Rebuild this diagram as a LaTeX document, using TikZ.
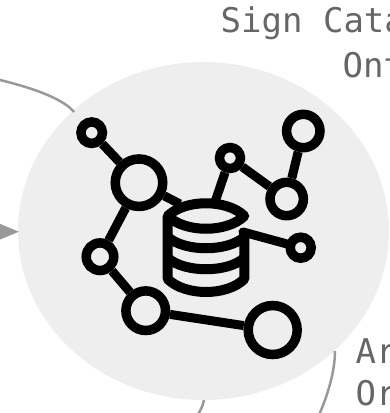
\documentclass[tikz,border=0pt]{standalone}
\usepackage{fontspec}
\setmonofont{DejaVu Sans Mono}
\usetikzlibrary{arrows.meta}
\definecolor{discgray}{HTML}{EEEEEE}
\definecolor{labelgray}{HTML}{666666}
\definecolor{linkgray}{HTML}{999999}
\tikzset{
	ring/.style={circle,draw=black,line width=9.5pt,inner sep=0pt,minimum size=#1},
	stem/.style={draw=black,line width=9pt},
	drum/.style={draw=black,line width=10pt,line join=round},
	link/.style={draw=linkgray,line width=2.5pt},
	caption/.style={text=labelgray,anchor=base west,inner sep=0pt,font=\ttfamily\fontsize{34}{34}\selectfont}
}

\begin{document}
\begin{tikzpicture}[x=1pt,y=-1pt]
	\useasboundingbox (0,0) rectangle (389,413);
	\clip (0,0) rectangle (389,413);
	\fill[discgray] (203.5,231) ellipse [x radius=185.5,y radius=169];

	\node[caption] (sign) at (220.5,32.7) {Sign Cata};
	\node[caption] (ont) at (342.5,77) {Ont};
	\node[caption] (ar) at (355.5,363) {Ar};
	\node[caption] (or) at (355.5,405) {Or};

	% loose ends of the links
	\coordinate (nwstart) at (-2,79.5);
	\coordinate (nwend) at (74,112);
	\coordinate (westart) at (-3,231.7);
	\coordinate (wetip) at (19,231.7);
	\coordinate (sastart) at (204,400);
	\coordinate (saend) at (197.5,415);
	\coordinate (sbstart) at (335,351);
	\coordinate (sbend) at (319,415);
	\draw[link] (nwstart) .. controls (25,86) and (62,97) .. (nwend);
	\draw[link,-{Triangle[length=19pt,width=15pt]}] (westart) -- (wetip);
	\draw[link] (sastart) .. controls (203,405) and (201,410) .. (saend);
	\draw[link] (sbstart) .. controls (335,372) and (327,397) .. (sbend);

	\node[ring=21.5pt] (ringa) at (91.7,132.7) {};
	\node[ring=47.5pt] (ringb) at (139,182.7) {};
	\node[ring=27.6pt] (ringc) at (100,256.7) {};
	\node[ring=39.6pt] (ringd) at (145.7,310.7) {};
	\node[ring=49pt] (ringe) at (272.7,330) {};
	\node[ring=21pt] (ringf) at (300.7,247.7) {};
	\node[ring=21pt] (ringg) at (230,158) {};
	\node[ring=33.4pt] (ringh) at (286.7,199) {};
	\node[ring=33.4pt] (ringi) at (303.3,131) {};

	\coordinate (dbleft) at (180,204);
	\coordinate (dbtop) at (215,202);
	\coordinate (dbright) at (243,232);

	\draw[stem] (ringa) -- (ringb);
	\draw[stem] (ringb) -- (ringc);
	\draw[stem] (ringc) -- (ringd);
	\draw[stem] (ringd) -- (ringe);
	\draw[stem] (ringb) -- (dbleft);
	\draw[stem] (ringg) -- (dbtop);
	\draw[stem] (ringg) -- (ringh);
	\draw[stem] (ringh) -- (ringi);
	\draw[stem,line cap=round] (dbright) -- (ringf);

	% the drum
	\draw[drum] (167.7,216) .. controls (185,199) and (227,199) .. (244.3,216)
		.. controls (227,233) and (185,233) .. cycle;
	\draw[drum] (167.7,216) -- (167.7,279) .. controls (185,296.3) and (227,296.3) .. (244.3,279) -- (244.3,232);
	\draw[drum] (167.7,237) .. controls (185,252) and (227,252) .. (244.3,237);
	\draw[drum] (167.7,258) .. controls (185,273) and (227,273) .. (244.3,258);
\end{tikzpicture}
\end{document}
